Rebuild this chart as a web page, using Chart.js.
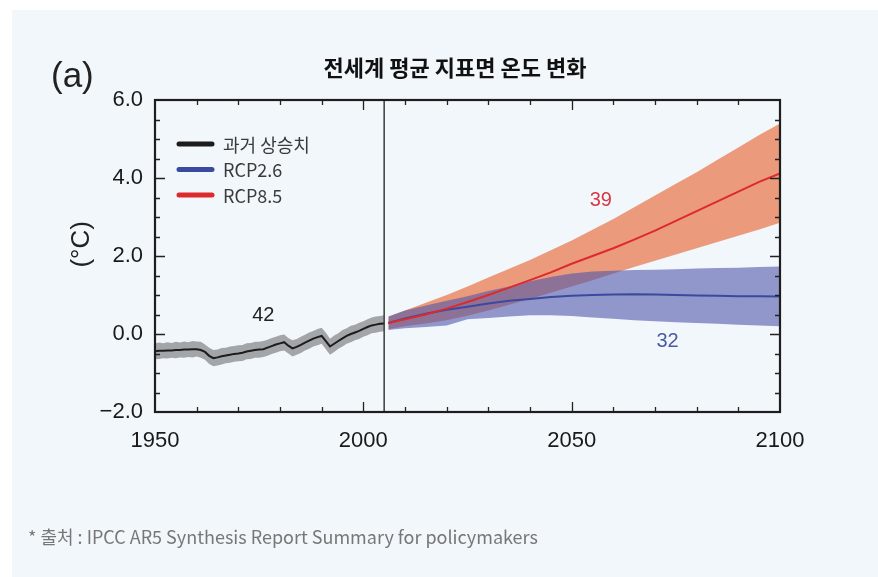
<!DOCTYPE html>
<html><head><meta charset="utf-8">
<script src="https://cdn.jsdelivr.net/npm/chart.js@4"></script>
<style>
html,body{margin:0;padding:0;background:#fff;}
#wrap{position:relative;width:878px;height:577px;overflow:hidden;}
#panel{position:absolute;left:12px;top:10px;width:866px;height:567px;background:#f2f7fc;}
#c{position:absolute;left:0;top:0;}
#title{position:absolute;left:0;width:910px;top:50px;text-align:center;font:bold 22px "Noto Sans CJK KR";color:#111;}
#tag{position:absolute;left:51px;top:55px;font:35px "Liberation Sans";color:#222;}
#note{position:absolute;left:28px;top:523px;font:18px "Noto Sans CJK KR";color:#777;}
</style></head>
<body>
<div id="wrap">
<div id="panel"></div>
<canvas id="c" width="878" height="577"></canvas>
<div id="tag">(a)</div>
<div id="title">전세계 평균 지표면 온도 변화</div>
<div id="note">* 출처 : IPCC AR5 Synthesis Report Summary for policymakers</div>
</div>
<script>
// ---- data ----
const histYears = [1950,1951,1952,1953,1954,1955,1956,1957,1958,1959,1960,1961,1962,1963,1964,1965,1966,1967,1968,1969,1970,1971,1972,1973,1974,1975,1976,1977,1978,1979,1980,1981,1982,1983,1984,1985,1986,1987,1988,1989,1990,1991,1992,1993,1994,1995,1996,1997,1998,1999,2000,2001,2002,2003,2004,2005];
const histMean = [-0.44,-0.43,-0.43,-0.42,-0.42,-0.41,-0.41,-0.40,-0.40,-0.39,-0.39,-0.41,-0.46,-0.56,-0.62,-0.60,-0.57,-0.55,-0.53,-0.51,-0.50,-0.48,-0.45,-0.43,-0.41,-0.40,-0.39,-0.35,-0.31,-0.27,-0.24,-0.21,-0.30,-0.37,-0.33,-0.28,-0.22,-0.17,-0.12,-0.08,-0.05,-0.18,-0.32,-0.25,-0.18,-0.11,-0.05,0.00,0.04,0.08,0.13,0.18,0.22,0.24,0.26,0.27];
const histUpper = [-0.24,-0.22,-0.24,-0.21,-0.23,-0.20,-0.22,-0.19,-0.21,-0.18,-0.19,-0.20,-0.27,-0.35,-0.41,-0.40,-0.36,-0.35,-0.32,-0.31,-0.29,-0.28,-0.24,-0.23,-0.20,-0.20,-0.18,-0.15,-0.10,-0.07,-0.03,-0.01,-0.10,-0.16,-0.13,-0.07,-0.02,0.04,0.08,0.13,0.16,0.03,-0.12,-0.04,0.02,0.10,0.15,0.21,0.24,0.29,0.33,0.38,0.42,0.45,0.46,0.48];
const histLower = [-0.65,-0.64,-0.62,-0.63,-0.61,-0.62,-0.60,-0.61,-0.59,-0.60,-0.58,-0.61,-0.66,-0.77,-0.83,-0.81,-0.78,-0.75,-0.74,-0.71,-0.70,-0.69,-0.65,-0.64,-0.61,-0.61,-0.59,-0.56,-0.51,-0.48,-0.44,-0.42,-0.50,-0.58,-0.53,-0.49,-0.42,-0.38,-0.32,-0.29,-0.25,-0.39,-0.53,-0.46,-0.38,-0.32,-0.25,-0.21,-0.16,-0.13,-0.07,-0.03,0.02,0.03,0.06,0.07];

const projYears = [2006,2010,2015,2020,2025,2030,2035,2040,2045,2050,2055,2060,2065,2070,2075,2080,2085,2090,2095,2100];
const rcp85Mean  = [0.28,0.38,0.50,0.65,0.82,1.00,1.19,1.38,1.58,1.80,2.00,2.20,2.42,2.65,2.90,3.15,3.40,3.65,3.90,4.12];
const rcp85Upper = [0.44,0.60,0.80,1.00,1.22,1.45,1.67,1.90,2.15,2.40,2.67,2.95,3.25,3.55,3.85,4.15,4.47,4.78,5.10,5.40];
const rcp85Lower = [0.12,0.20,0.27,0.35,0.47,0.60,0.75,0.90,1.06,1.22,1.38,1.55,1.72,1.88,2.04,2.20,2.36,2.52,2.68,2.85];
const rcp26Mean  = [0.28,0.40,0.52,0.62,0.70,0.78,0.85,0.90,0.95,0.98,1.00,1.01,1.02,1.01,1.00,0.99,0.98,0.97,0.97,0.96];
const rcp26Upper = [0.45,0.60,0.73,0.85,0.97,1.10,1.22,1.35,1.46,1.55,1.60,1.62,1.64,1.65,1.66,1.68,1.69,1.70,1.72,1.73];
const rcp26Lower = [0.10,0.15,0.18,0.22,0.38,0.41,0.45,0.48,0.48,0.46,0.42,0.39,0.35,0.33,0.30,0.28,0.26,0.24,0.22,0.20];

const seriesLabels = ['과거 상승치','RCP2.6','RCP8.5'];
const modelCounts = ['42','32','39'];
const xTickValues = [1950,2000,2050,2100];
const yTickValues = [-2,0,2,4,6];

// ---- build ----
const pts = (xs, ys) => xs.map((x,i)=>({x:x, y:ys[i]}));
const band = (o)=>Object.assign({borderWidth:0,pointRadius:0,tension:0,fill:false},o);

const datasets = [
  band({label:'hu', data:pts(histYears,histUpper), fill:'+1', backgroundColor:'#a3a6a9', order:5}),
  band({label:'hl', data:pts(histYears,histLower), order:5}),
  band({label:'ru', data:pts(projYears,rcp85Upper), fill:'+1', backgroundColor:'#ec9a7c', order:4}),
  band({label:'rl', data:pts(projYears,rcp85Lower), order:4}),
  band({label:'bu', data:pts(projYears,rcp26Upper), fill:'+1', backgroundColor:'rgba(80,86,170,0.6)', order:3}),
  band({label:'bl', data:pts(projYears,rcp26Lower), order:3}),
  {label:seriesLabels[0], data:pts(histYears,histMean), borderColor:'#1c1c1c', borderWidth:2, pointRadius:0, tension:0, fill:false, order:2},
  {label:seriesLabels[1], data:pts(projYears,rcp26Mean), borderColor:'#3a4a9f', borderWidth:2, pointRadius:0, tension:0, fill:false, order:1},
  {label:seriesLabels[2], data:pts(projYears,rcp85Mean), borderColor:'#dd2a2c', borderWidth:2, pointRadius:0, tension:0, fill:false, order:0}
];

const decor = {
  id:'decor',
  afterDatasetsDraw(chart){
    const ctx = chart.ctx, a = chart.chartArea, xs = chart.scales.x, ys = chart.scales.y;
    ctx.save();
    const xv = xs.getPixelForValue(histYears[histYears.length-1]);
    ctx.strokeStyle = '#3a3a3a'; ctx.lineWidth = 1.5;
    ctx.beginPath(); ctx.moveTo(xv, a.top); ctx.lineTo(xv, a.bottom); ctx.stroke();
    ctx.strokeStyle = '#222'; ctx.lineWidth = 1.3;
    for (let yr = 1960; yr < 2100; yr += 10) {
      const px = Math.round(xs.getPixelForValue(yr)) + 0.5;
      const len = (yr % 50 === 0) ? 10 : 5;
      ctx.beginPath();
      ctx.moveTo(px, a.bottom); ctx.lineTo(px, a.bottom - len);
      ctx.moveTo(px, a.top); ctx.lineTo(px, a.top + len);
      ctx.stroke();
    }
    for (let v = -1.5; v < 6; v += 0.5) {
      const py = Math.round(ys.getPixelForValue(v)) + 0.5;
      const len = (Math.abs(v % 2) < 1e-9) ? 10 : 5;
      ctx.beginPath();
      ctx.moveTo(a.left, py); ctx.lineTo(a.left + len, py);
      ctx.moveTo(a.right, py); ctx.lineTo(a.right - len, py);
      ctx.stroke();
    }
    ctx.strokeStyle = '#1e1e1e'; ctx.lineWidth = 2.2;
    ctx.strokeRect(a.left, a.top, a.right - a.left, a.bottom - a.top);
    ctx.font = '20px "Liberation Sans"'; ctx.textAlign = 'center'; ctx.textBaseline = 'middle';
    ctx.fillStyle = '#222'; ctx.fillText(modelCounts[0], xs.getPixelForValue(1976), ys.getPixelForValue(0.48));
    ctx.fillStyle = '#4b5aa6'; ctx.fillText(modelCounts[1], xs.getPixelForValue(2073), ys.getPixelForValue(-0.2));
    ctx.fillStyle = '#d63a44'; ctx.fillText(modelCounts[2], xs.getPixelForValue(2057), ys.getPixelForValue(3.42));
    const cols = ['#1c1c1c','#3a4a9f','#dd2a2c'];
    ctx.font = '18px "Noto Sans CJK KR"'; ctx.textAlign = 'left';
    for (let i = 0; i < 3; i++) {
      const y = a.top + 44 + i * 25.5;
      ctx.strokeStyle = cols[i]; ctx.lineWidth = 5; ctx.lineCap = 'round';
      ctx.beginPath(); ctx.moveTo(a.left + 24, y); ctx.lineTo(a.left + 57, y); ctx.stroke();
      ctx.fillStyle = '#3a3a3a'; ctx.fillText(seriesLabels[i], a.left + 68, y + 1);
    }
    ctx.translate(82, ys.getPixelForValue(2.3));
    ctx.rotate(-Math.PI/2);
    ctx.font = '26px "Liberation Sans"'; ctx.textAlign = 'center'; ctx.fillStyle = '#222';
    ctx.fillText('(°C)', 0, 0);
    ctx.restore();
  }
};

new Chart(document.getElementById('c'), {
  type:'line',
  data:{datasets},
  options:{
    responsive:false, animation:false, parsing:true,
    layout:{padding:{left:12, right:98, top:100, bottom:125}},
    plugins:{legend:{display:false}, tooltip:{enabled:false}, title:{display:false}},
    scales:{
      x:{type:'linear', min:1950, max:2100,
         afterFit(s){ s.height = 40; },
         afterBuildTicks(s){ s.ticks = xTickValues.map(v=>({value:v})); },
         grid:{display:false, drawTicks:false}, border:{display:false},
         ticks:{padding:16, color:'#1a1a1a', font:{family:'Liberation Sans', size:22}, callback:v=>String(v), maxRotation:0}},
      y:{type:'linear', min:-2, max:6,
         afterFit(s){ s.width = 143; },
         afterBuildTicks(s){ s.ticks = yTickValues.map(v=>({value:v})); },
         grid:{display:false, drawTicks:false}, border:{display:false},
         ticks:{padding:12, color:'#1a1a1a', font:{family:'Liberation Sans', size:22}, callback:v=>(v<0?'\u2212':'')+Math.abs(v).toFixed(1)}}
    }
  },
  plugins:[decor]
});
</script>
</body></html>
